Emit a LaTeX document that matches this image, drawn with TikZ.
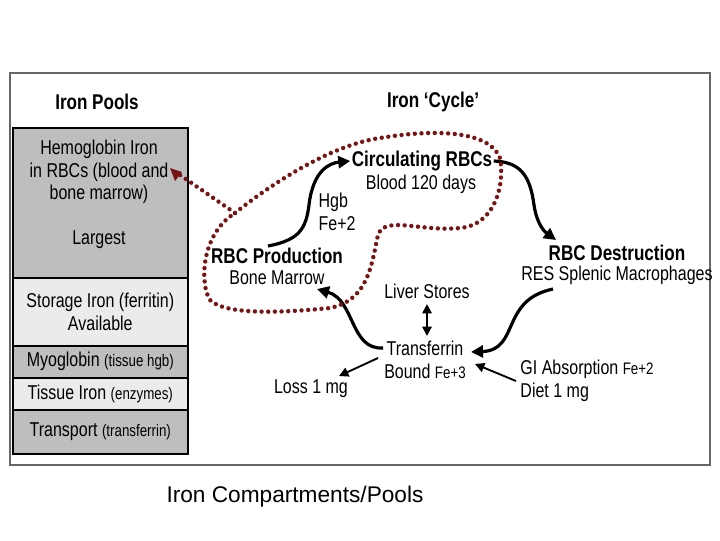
\documentclass[tikz,border=0pt]{standalone}
\usepackage{fontspec}
\setmainfont[FakeStretch=0.8]{Liberation Sans}
\newfontfamily\plainfont{Liberation Sans}
\usetikzlibrary{arrows.meta}
\definecolor{darkg}{RGB}{190,190,190}
\definecolor{lightg}{RGB}{235,235,235}
\definecolor{dotred}{RGB}{120,20,20}
\newlength{\pxu}\setlength{\pxu}{0.75pt}
\newcommand{\smtxt}{\fontsize{12.5}{14}\selectfont}
\tikzset{
  cell/.style={draw=black,line width=1.2pt,minimum width=175\pxu,anchor=north west,inner sep=0pt,align=center,font=\fontsize{15}{17}\selectfont},
  lbl/.style={align=center,font=\fontsize{15}{17}\selectfont,inner sep=1pt},
  head/.style={font=\bfseries\fontsize{16}{18}\selectfont,inner sep=1pt},
  flow/.style={line width=2.4pt,-{Triangle[length=9pt,width=9pt]}},
  thin/.style={line width=1.4pt,-{Triangle[length=7pt,width=7pt]}},
  dots/.style={dotred,line width=3.3pt,dash pattern=on 0pt off 5pt,line cap=round}
}
\begin{document}
\begin{tikzpicture}[x=0.75pt,y=-0.75pt]
\useasboundingbox (0,0) rectangle (720,540);
\fill[white] (0,0) rectangle (720,540);
\draw[gray!80!black,line width=1pt] (10,73) coordinate (f1) rectangle (710,465) coordinate (f2);
\node[head] (ip) at (97,102) {Iron Pools};
\node[head] (ic) at (433,102) {Iron ‘Cycle’};
% table
\node[cell,fill=darkg,minimum height=150\pxu] (c1) at (12,127) {};
\node[lbl] (c1t) at (99,172) {Hemoglobin Iron\\in RBCs (blood and\\bone marrow)};
\node[lbl] (c1l) at (99,240) {Largest};
\node[cell,fill=lightg,minimum height=68\pxu] (c2) at (12,277) {Storage Iron (ferritin)\\Available};
\node[cell,fill=darkg,minimum height=32\pxu] (c3) at (12,345) {Myoglobin {\smtxt(tissue hgb)}};
\node[cell,fill=lightg,minimum height=32\pxu] (c4) at (12,377) {Tissue Iron {\smtxt(enzymes)}};
\node[cell,fill=darkg,minimum height=44\pxu] (c5) at (12,409) {Transport {\smtxt(transferrin)}};
% cycle nodes
\node[head] (circ) at (422,161) {Circulating RBCs};
\node[lbl] (circ2) at (421,184) {Blood 120 days};
\node[head] (prod) at (277,256) {RBC Production};
\node[lbl] (prod2) at (277,278) {Bone Marrow};
\node[head] (dest) at (617,253) {RBC Destruction};
\node[lbl] (dest2) at (617,275) {RES Splenic Macrophages};
\node[lbl,align=left,anchor=west] (hgb) at (317,212) {Hgb\\Fe+2};
\node[lbl] (liver) at (427,291) {Liver Stores};
\node[lbl] (tf) at (425,360) {Transferrin\\Bound {\smtxt Fe+3}};
\node[lbl,align=left] (gi) at (587,381) {GI Absorption {\smtxt Fe+2}\\Diet 1 mg};
\node[lbl] (loss) at (311,389) {Loss 1 mg};
% arrows
\draw[flow] (268,246) .. controls (300,240) and (306,228) .. (309,205) .. controls (313,170) and (330,163) .. (circ.west);
\draw[flow] (circ.east) .. controls (520,162) and (530,175) .. (534,205) .. controls (537,225) and (545,232) .. (556,240);
\draw[flow] (553,289) .. controls (500,300) and (520,350) .. (471,352);
\draw[flow] (383,348) .. controls (350,350) and (355,300) .. (317,289);
\draw[thin,{Triangle[length=7pt,width=7pt]}-{Triangle[length=7pt,width=7pt]}] (427,304) -- (427,336);
\draw[thin] (378,358) -- (339,376);
\draw[thin] (516,381) -- (475,364);
% dotted loop
\draw[dots] (235,213) .. controls (270,185) and (330,145) .. (380,138) .. controls (440,128) and (490,132) .. (500,158) .. controls (505,185) and (495,225) .. (460,228) .. controls (420,232) and (385,215) .. (378,235) .. controls (372,260) and (370,300) .. (330,308) .. controls (280,313) and (225,315) .. (210,300) .. controls (200,285) and (200,235) .. cycle;
\draw[dots] (235,213) -- (180,175);
\fill[dotred] (170,168) -- (182,172) -- (175,181) -- cycle;
\node[font=\plainfont\fontsize{17}{20}\selectfont] (cap) at (295,497) {Iron Compartments/Pools};
\end{tikzpicture}
\end{document}
